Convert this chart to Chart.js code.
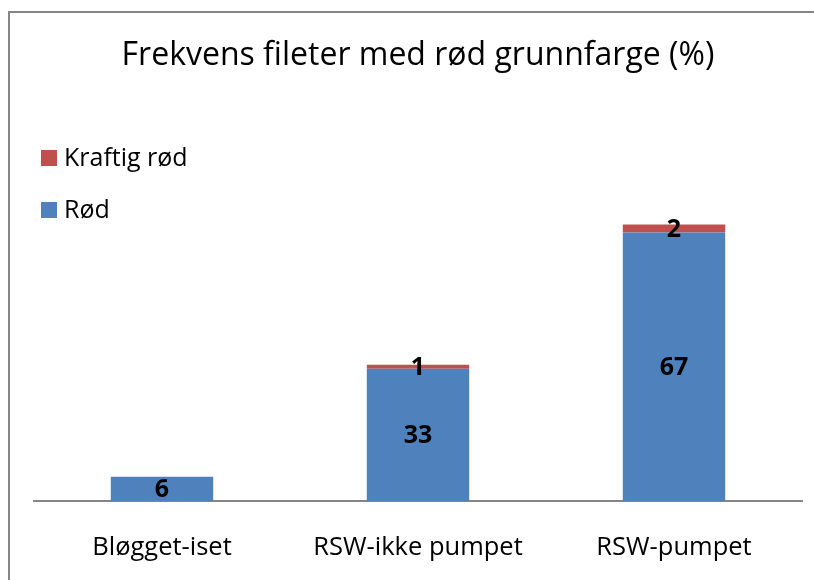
<!DOCTYPE html>
<html>
<head>
<meta charset="utf-8">
<script src="https://cdn.jsdelivr.net/npm/chart.js@4"></script>
<style>
  body { margin: 0; background: #fff; }
  #wrap { position: relative; width: 814px; height: 580px; overflow: hidden; }
  #frame { position: absolute; left: 8px; top: 11px; width: 900px; height: 700px;
           border-top: 2px solid #868686; border-left: 2px solid #868686; pointer-events: none; }
</style>
</head>
<body>
<div id="wrap">
  <canvas id="chart" width="814" height="615"></canvas>
  <div id="frame"></div>
</div>
<script>
const categories = ['Bløgget-iset', 'RSW-ikke pumpet', 'RSW-pumpet'];
const rod = [6, 33, 67];
const kraftigRod = [null, 1, 2];
const seriesNames = ['Rød', 'Kraftig rød'];
const colors = ['#4F81BD', '#C0504D'];

const FONT = '"Open Sans", "Liberation Sans", sans-serif';

// segment value labels, centred in each stacked piece
const valueLabels = {
    id: 'valueLabels',
    afterDatasetsDraw(chart) {
        const ctx = chart.ctx;
        ctx.save();
        ctx.font = 'bold 25px ' + FONT;
        ctx.fillStyle = '#000';
        ctx.textAlign = 'center';
        ctx.textBaseline = 'middle';
        chart.data.datasets.forEach((ds, i) => {
            chart.getDatasetMeta(i).data.forEach((bar, j) => {
                const v = ds.data[j];
                if (v == null) return;
                ctx.fillText(String(v), bar.x, (bar.y + bar.base) / 2 + 1);
            });
        });
        ctx.restore();
    }
};

// legend on the left, top series first, like the original
const sideLegend = {
    id: 'sideLegend',
    afterDraw(chart) {
        const ctx = chart.ctx;
        ctx.save();
        ctx.font = '25px ' + FONT;
        ctx.textBaseline = 'middle';
        ctx.textAlign = 'left';
        const items = chart.data.datasets.slice().reverse();
        items.forEach((ds, k) => {
            const y = 158 + k * 52;
            ctx.fillStyle = ds.backgroundColor;
            ctx.fillRect(41, y - 8, 16, 16);
            ctx.fillStyle = '#000';
            ctx.fillText(ds.label, 64, y + 1);
        });
        ctx.restore();
    }
};

new Chart(document.getElementById('chart').getContext('2d'), {
    type: 'bar',
    data: {
        labels: categories,
        datasets: [
            { label: seriesNames[0], data: rod, backgroundColor: colors[0] },
            { label: seriesNames[1], data: kraftigRod, backgroundColor: colors[1] }
        ]
    },
    options: {
        responsive: false,
        animation: false,
        layout: { padding: { left: 34, right: 12, top: 0, bottom: 19.5 } },
        datasets: { bar: { categoryPercentage: 1, barPercentage: 0.4 } },
        scales: {
            x: {
                stacked: true,
                grid: { display: false, drawTicks: false },
                border: { display: true, color: '#868686', width: 2 },
                ticks: { color: '#000', font: { family: FONT, size: 25.5 }, padding: 32 }
            },
            y: {
                stacked: true,
                display: false,
                min: 0,
                max: 80
            }
        },
        plugins: {
            legend: { display: false },
            tooltip: { enabled: false },
            title: {
                display: true,
                text: 'Frekvens fileter med rød grunnfarge (%)',
                color: '#000',
                font: { family: FONT, size: 32, weight: 'normal' },
                padding: { top: 37, bottom: 105 }
            }
        }
    },
    plugins: [valueLabels, sideLegend]
});
</script>
</body>
</html>
